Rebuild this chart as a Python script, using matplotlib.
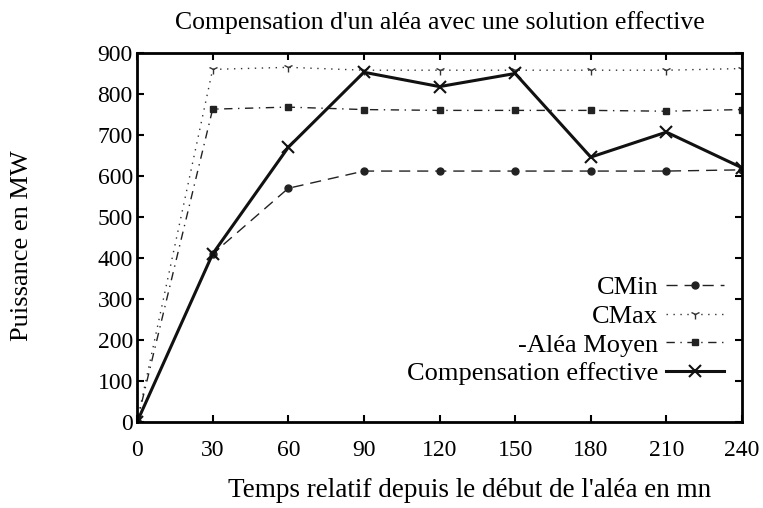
import matplotlib
matplotlib.use("Agg")
import matplotlib.pyplot as plt

temps = [0, 30, 60, 90, 120, 150, 180, 210, 240]
cmin = [0, 410, 570, 612, 612, 612, 612, 612, 615]
cmax = [0, 860, 865, 858, 858, 858, 858, 858, 862]
alea_moyen = [0, 763, 768, 762, 760, 760, 760, 758, 762]
compensation = [0, 410, 670, 853, 818, 850, 646, 707, 620]

plt.rcParams['font.family'] = ['Liberation Serif', 'DejaVu Serif']

fig = plt.figure(figsize=(7.63, 5.08), dpi=100)
ax = fig.add_axes([0.1796, 0.1693, 0.7929, 0.7264])

ax.plot(temps, cmin, color='#222222', linestyle=(0, (8, 5)), linewidth=1.0,
        marker='o', markersize=5, label='CMin')
ax.plot(temps, cmax, color='#333333', linestyle=(0, (1, 4)), linewidth=1.0,
        marker='1', markersize=7, label='CMax')
ax.plot(temps, alea_moyen, color='#222222', linestyle=(0, (6, 4, 1, 4)), linewidth=1.0,
        marker='s', markersize=5, label='-Aléa Moyen')
ax.plot(temps, compensation, color='#111111', linestyle='-', linewidth=2.2,
        marker='x', markersize=8, markeredgewidth=1.5, label='Compensation effective')

ax.set_xlim(0, 240)
ax.set_ylim(0, 900)
ax.set_xticks(temps)
ax.set_yticks(range(0, 901, 100))
ax.tick_params(direction='in', top=True, right=True, length=5, width=1.5,
               labelsize=17)
ax.tick_params(axis='x', pad=13)
ax.tick_params(axis='y', pad=3)
for sp in ax.spines.values():
    sp.set_linewidth(2)

ax.set_title("Compensation d'un aléa avec une solution effective", fontsize=18.5, pad=17)
ax.set_xlabel("Temps relatif depuis le début de l'aléa en mn", fontsize=19.5)
ax.xaxis.set_label_coords(0.55, -0.152)
ax.set_ylabel("Puissance en MW", fontsize=19)
ax.yaxis.set_label_coords(-0.172, 0.478)

ax.legend(loc='lower right', bbox_to_anchor=(1.01, 0.035), frameon=False, markerfirst=False,
          fontsize=19, handlelength=2.2, labelspacing=0.2, borderaxespad=0.5,
          handletextpad=0.3)

fig.savefig('out.png', dpi=100)
